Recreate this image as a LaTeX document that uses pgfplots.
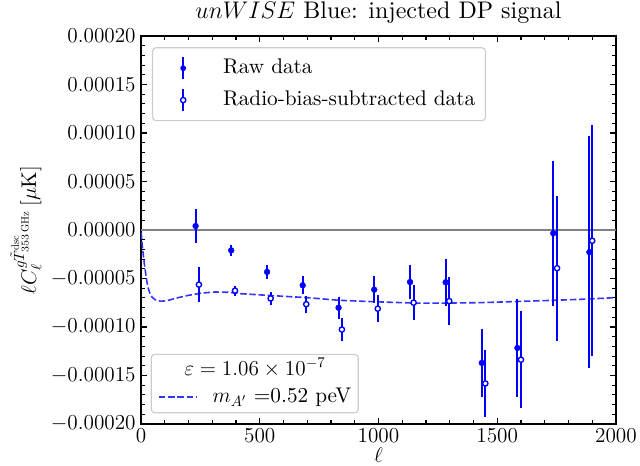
\RequirePackage{fix-cm}
\documentclass[border=0pt]{standalone}
\usepackage{fontspec}
\setmainfont{lmroman10-regular.otf}[ItalicFont=lmroman10-italic.otf, BoldFont=lmroman10-bold.otf]
\usepackage{pgfplots}
\pgfplotsset{compat=1.18}
\usepackage{pgfplotstable}

\definecolor{mplblue}{RGB}{0,0,255}
\definecolor{curveblue}{RGB}{51,51,255}
\definecolor{legedge}{RGB}{204,204,204}
\newcommand{\basefont}{\fontsize{15.3}{18}\selectfont}

\pgfplotstableread{
l v e
230 0.41e-5 1.78e-5
380 -2.10e-5 0.55e-5
531 -4.32e-5 0.71e-5
681 -5.70e-5 0.93e-5
832 -8.01e-5 1.12e-5
982 -6.15e-5 1.38e-5
1133 -5.36e-5 1.80e-5
1283 -5.39e-5 2.42e-5
1435 -13.70e-5 3.49e-5
1585 -12.16e-5 5.01e-5
1736 -0.34e-5 7.46e-5
1888 -2.28e-5 11.92e-5
}\rawdata

\pgfplotstableread{
l v e
244 -5.63e-5 1.80e-5
396 -6.25e-5 0.52e-5
546 -7.05e-5 0.69e-5
696 -7.65e-5 0.86e-5
846 -10.26e-5 1.14e-5
997 -8.11e-5 1.38e-5
1148 -7.49e-5 1.80e-5
1298 -7.33e-5 2.47e-5
1450 -15.82e-5 3.49e-5
1600 -13.37e-5 5.00e-5
1752 -3.94e-5 7.46e-5
1900 -1.11e-5 11.92e-5
}\subdata

\pgfplotstableread{
l v
1 -0.30e-5
6 -1.73e-5
10 -2.60e-5
14 -3.45e-5
19 -4.35e-5
24 -5.18e-5
30 -5.95e-5
38 -6.56e-5
48 -6.95e-5
59 -7.18e-5
80 -7.33e-5
97 -7.32e-5
115 -7.25e-5
157 -6.97e-5
199 -6.74e-5
256 -6.50e-5
312 -6.39e-5
370 -6.42e-5
417 -6.56e-5
557 -6.77e-5
698 -6.97e-5
838 -7.25e-5
979 -7.39e-5
1147 -7.53e-5
1290 -7.53e-5
1427 -7.49e-5
1596 -7.36e-5
1737 -7.25e-5
1877 -7.12e-5
2000 -6.97e-5
}\curvedata

\begin{document}
\begin{tikzpicture}[font=\basefont]
\useasboundingbox (-101.5pt,-30.2pt) rectangle (359.3pt,305.3pt);
\begin{axis}[
  at={(0,0)}, anchor=south west,
  scale only axis, width=342pt, height=279.4pt,
  xmin=0, xmax=2000, ymin=-0.0002, ymax=0.0002,
  xtick={0,500,1000,1500,2000}, minor x tick num=4,
  ytick={-0.0002,-0.00015,-0.0001,-0.00005,0,0.00005,0.0001,0.00015,0.0002},
  minor y tick num=4,
  scaled y ticks=false,
  y tick label style={/pgf/number format/.cd, fixed, fixed zerofill, precision=5, /tikz/.cd},
  x tick label style={/pgf/number format/.cd, set thousands separator={}, /tikz/.cd},
  yticklabel style={inner xsep=3.6pt},
  tick align=inside,
  major tick length=4.5pt, minor tick length=2.6pt,
  every tick/.style={black, line width=0.8pt},
  axis line style={line width=0.9pt},
  font=\basefont,
  tick label style={font=\basefont},
  title={$unWISE$ Blue: injected DP signal},
  title style={at={(axis description cs:0.5,1)}, anchor=base, yshift=6.7pt, inner sep=0pt, font=\fontsize{17.3}{20}\selectfont},
  xlabel={$\ell$},
  xlabel style={at={(axis description cs:0.5,-0.0600)}, anchor=north, inner sep=0pt, font=\basefont},
  ylabel={$\ell C_\ell^{g\tilde{T}^{\mathrm{dsc}}_{353\,\mathrm{GHz}}}\,[\mu\mathrm{K}]$},
  ylabel style={at={(axis description cs:-0.2421,0.5)}, anchor=center, inner sep=0pt, font=\basefont},
  legend cell align=left,
  legend style={at={(0.0231,0.971)}, anchor=north west, draw=legedge, line width=0.8pt,
    rounded corners=2.5pt, fill=white, inner xsep=7.4pt, inner ysep=6.25pt,
    row sep=6pt, column sep=0pt,
    nodes={inner sep=0pt, text height=11pt, text depth=3pt, anchor=west},
    font=\basefont},
]
\addplot[gray, line width=0.9pt, forget plot] coordinates {(0,0) (2000,0)};
\addplot[curveblue, line width=1.15pt, dash pattern=on 4.6pt off 2pt, forget plot] table[x=l, y=v] {\curvedata};
\addplot[mplblue, only marks, mark=*, mark size=2.1pt, forget plot,
  mark options={fill=mplblue, draw=mplblue, line width=0.3pt},
  error bars/.cd, y dir=both, y explicit, error mark=none,
  error bar style={line width=1.35pt, mplblue}]
  table[x=l, y=v, y error=e] {\rawdata};
\addplot[mplblue, only marks, mark=*, mark size=1.9pt, forget plot,
  mark options={fill=white, draw=mplblue, line width=1pt},
  error bars/.cd, y dir=both, y explicit, error mark=none,
  error bar style={line width=1.35pt, mplblue}]
  table[x=l, y=v, y error=e] {\subdata};
\addlegendimage{legend image code/.code={
  \path[draw=none, fill=none] (0pt,-7.8pt) rectangle (43.5pt,7.8pt);
  \draw[mplblue, line width=1.35pt, rounded corners=0pt] (14.7pt,-7.8pt) -- (14.7pt,7.8pt);
  \fill[mplblue, draw=none] (14.7pt,0pt) circle (2.1pt);
}}
\addlegendentry{Raw data}
\addlegendimage{legend image code/.code={
  \path[draw=none, fill=none] (0pt,-7.8pt) rectangle (43.5pt,7.8pt);
  \draw[mplblue, line width=1.35pt, rounded corners=0pt] (14.7pt,-7.8pt) -- (14.7pt,7.8pt);
  \filldraw[fill=white, draw=mplblue, line width=1pt] (14.7pt,0pt) circle (1.9pt);
}}
\addlegendentry{Radio-bias-subtracted data}
\end{axis}
\begin{axis}[
  at={(0,0)}, anchor=south west,
  scale only axis, width=342pt, height=279.4pt,
  xmin=0, xmax=2000, ymin=-0.0002, ymax=0.0002,
  hide axis,
  legend cell align=left,
  legend style={at={(0.0205,0.0276)}, anchor=south west, draw=legedge, line width=0.8pt,
    rounded corners=2.5pt, fill=white, inner xsep=5pt, inner ysep=4.15pt,
    row sep=5.7pt, column sep=0pt,
    nodes={inner sep=0pt, text height=11pt, text depth=3pt, anchor=west},
    font=\basefont},
]
\addlegendimage{empty legend}
\addlegendentry{\hspace*{-20.4pt}$\varepsilon = 1.06\times 10^{-7}$}
\addlegendimage{legend image code/.code={
  \path[draw=none, fill=none] (0pt,-5pt) rectangle (38.6pt,5pt);
  \draw[curveblue, line width=1.15pt, dash pattern=on 4.6pt off 2pt, rounded corners=0pt] (0pt,0pt) -- (27.1pt,0pt);
}}
\addlegendentry{$m_{A'}$ =0.52 peV}
\end{axis}
\end{tikzpicture}
\end{document}
